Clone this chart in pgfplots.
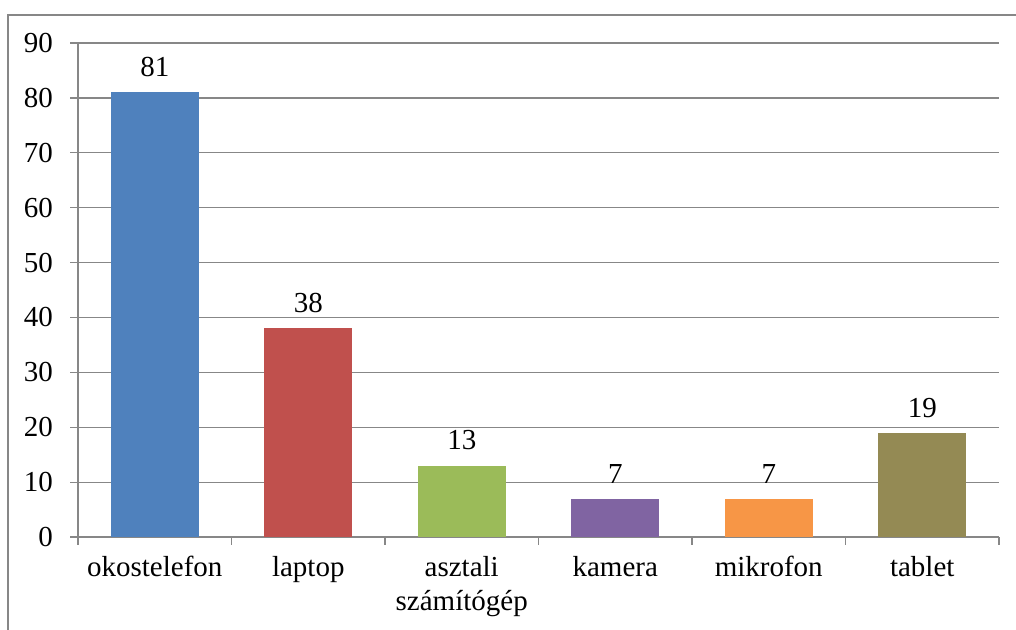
\documentclass[border=0pt]{standalone}
\usepackage{fontspec}
\setmainfont{Liberation Serif}
\usepackage{pgfplots}
\pgfplotsset{compat=1.18}
\definecolor{c1}{HTML}{4F81BD}
\definecolor{c2}{HTML}{C0504D}
\definecolor{c3}{HTML}{9BBB59}
\definecolor{c4}{HTML}{8064A2}
\definecolor{c5}{HTML}{F79646}
\definecolor{c6}{HTML}{948A54}
\definecolor{gridc}{HTML}{878787}
\begin{document}
\begin{tikzpicture}[x=1pt,y=1pt]
\path[use as bounding box] (0,0) rectangle (508,315);
\draw[color=gridc, line width=0.9pt] (4,0) -- (4,307.5) -- (508,307.5);
\begin{axis}[
  at={(39pt,46.5pt)}, anchor=south west,
  scale only axis, width=460.5pt, height=247pt,
  xmin=-0.5, xmax=5.5, ymin=0, ymax=90,
  axis lines*=left,
  axis line style={color=gridc, line width=0.6pt},
  ytick={0,10,...,90},
  ymajorgrids, grid style={color=gridc, line width=0.6pt},
  tick align=outside, major tick length=4pt,
  tick style={color=gridc, line width=0.6pt},
  xtick={-0.5,0.5,...,5.5}, xticklabels={},
  extra x ticks={0,1,2,3,4,5},
  extra x tick labels={okostelefon, laptop, asztali\\számítógép, kamera, mikrofon, tablet},
  extra x tick style={major tick length=0pt, grid=none, tick label style={yshift=-6pt}},
  x tick label style={align=center, font=\fontsize{14.5}{17.4}\selectfont},
  y tick label style={font=\fontsize{14.5}{17.4}\selectfont, xshift=-5pt},
  /pgf/number format/assume math mode=true,
  ybar, bar width=0.573, bar shift=0pt,
  nodes near coords,
  every node near coord/.append style={font=\fontsize{14.5}{17.4}\selectfont, anchor=south, inner sep=0pt, yshift=7.5pt, text=black},
]
\addplot[fill=c1, draw=none] coordinates {(0,81)};
\addplot[fill=c2, draw=none] coordinates {(1,38)};
\addplot[fill=c3, draw=none] coordinates {(2,13)};
\addplot[fill=c4, draw=none] coordinates {(3,7)};
\addplot[fill=c5, draw=none] coordinates {(4,7)};
\addplot[fill=c6, draw=none] coordinates {(5,19)};
\end{axis}
\end{tikzpicture}
\end{document}
